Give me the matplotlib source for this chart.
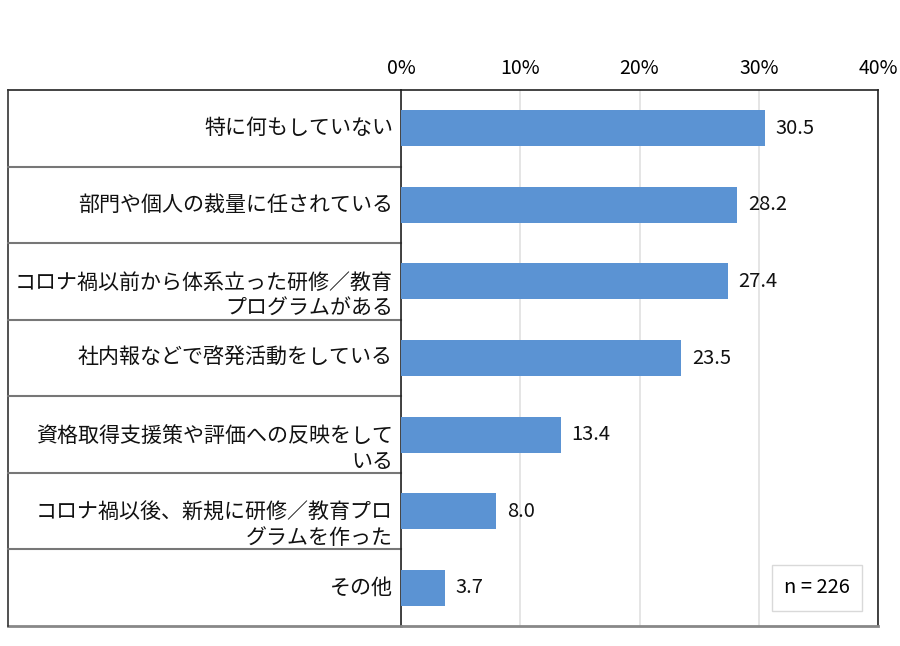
import matplotlib
matplotlib.use('Agg')
import matplotlib.pyplot as plt

plt.rcParams['font.family'] = ['Noto Sans CJK JP', 'DejaVu Sans']

categories = [
    "特に何もしていない",
    "部門や個人の裁量に任されている",
    "コロナ禍以前から体系立った研修／教育\nプログラムがある",
    "社内報などで啓発活動をしている",
    "資格取得支援策や評価への反映をして\nいる",
    "コロナ禍以後、新規に研修／教育プロ\nグラムを作った",
    "その他",
]
values = [30.5, 28.2, 27.4, 23.5, 13.4, 8.0, 3.7]
xticks = [0, 10, 20, 30, 40]
xtick_labels = ["0%", "10%", "20%", "30%", "40%"]
n_label = "n = 226"

bar_color = '#5B93D3'
fig = plt.figure(figsize=(9, 6.46), dpi=100, facecolor='white')
ax = fig.add_axes([401/900, 20/646, 477/900, 536/646])

ypos = list(range(len(categories)))
ax.barh(ypos, values, height=0.47, color=bar_color, zorder=3)

ax.set_xlim(0, 40)
ax.set_ylim(len(categories) - 0.5, -0.5)
ax.set_xticks(xticks)
ax.set_xticklabels(xtick_labels, fontsize=14)
ax.xaxis.tick_top()
ax.tick_params(axis='x', length=0, pad=8)
ax.set_yticks([])
ax.grid(axis='x', color='#e0e0e0', linewidth=1.2, zorder=0)

for side in ['top', 'right', 'left']:
    ax.spines[side].set_color('#222222')
    ax.spines[side].set_linewidth(1.2)
ax.spines['bottom'].set_color('#888888')
ax.spines['bottom'].set_linewidth(2)

for y, v in zip(ypos, values):
    ax.text(v + 0.9, y, f"{v:.1f}", va='center', ha='left', fontsize=14.5, color='#111111')

# label area to the left of the plot
x0 = (8 - 401) / 477
tr = ax.get_yaxis_transform()
ax.plot([x0, 0], [-0.5, -0.5], transform=tr, color='#222222', lw=1.2, clip_on=False)
ax.plot([x0, 0], [len(categories) - 0.5] * 2, transform=tr, color='#888888', lw=2, clip_on=False)
ax.plot([x0, x0], [-0.5, len(categories) - 0.5], transform=tr, color='#333333', lw=1.2, clip_on=False)
for b in range(1, len(categories)):
    ax.plot([x0, 0], [b - 0.5, b - 0.5], transform=tr, color='#777777', lw=1.5, clip_on=False)

for y, c in zip(ypos, categories):
    nl = c.count("\n")
    ax.text(-8/477, y + nl * 0.19, c, transform=tr, ha='right', va='center', fontsize=15.1,
            linespacing=1.2, color='#111111')

ax.text(0.873, 0.071, n_label, transform=ax.transAxes, ha='center', va='center', fontsize=14.5,
        bbox=dict(boxstyle='square,pad=0.6', facecolor='white', edgecolor='#d9d9d9'))

plt.savefig('out.png', dpi=100, facecolor='white')
